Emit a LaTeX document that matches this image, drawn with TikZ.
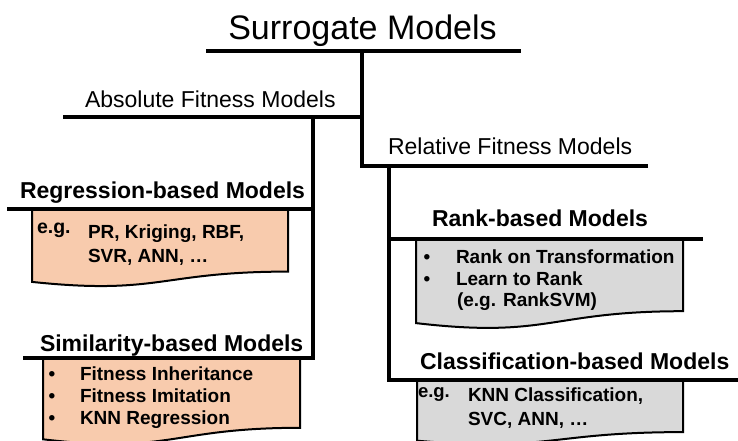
\documentclass[tikz,border=0pt]{standalone}
\usepackage{fontspec}
\setmainfont{Liberation Sans}
\definecolor{peach}{HTML}{F8CBAD}
\definecolor{lgray}{HTML}{D9D9D9}
\begin{document}
\begin{tikzpicture}[x=1pt,y=-1pt,
  bar/.style={line width=4pt, line join=miter},
  docbox/.style={line width=2pt, line join=miter},
  txt/.style={inner sep=0pt, outer sep=0pt, anchor=base west},
  titletxt/.style={txt, font=\fontsize{34}{40}\selectfont},
  subtxt/.style={txt, font=\fontsize{23}{27}\selectfont},
  headtxt/.style={txt, font=\fontsize{23}{27}\selectfont\bfseries},
  bodytxt/.style={txt, font=\fontsize{19}{22}\selectfont\bfseries},
  egtxt/.style={txt, font=\fontsize{19.5}{22}\selectfont\bfseries},
  bul/.style={inner sep=0pt, outer sep=0pt, anchor=base, font=\fontsize{19}{22}\selectfont\bfseries}]
\useasboundingbox (0,0) rectangle (738,441);

% document boxes
\draw[docbox, fill=peach] (32,209) -- (288,209) -- (288,271.6)
  .. controls (160,271.6) and (160,295.4) .. (32,281.9) -- cycle;
\draw[docbox, fill=peach] (43,358) -- (300,358) -- (300,427.8)
  .. controls (171.5,427.8) and (171.5,454.4) .. (43,439.3) -- cycle;
\draw[docbox, fill=lgray] (416,239) -- (683,239) -- (683,311.2)
  .. controls (549.5,311.2) and (549.5,338.7) .. (416,323.1) -- cycle;
\draw[docbox, fill=lgray] (417,380) -- (683,380) -- (683,432.1)
  .. controls (550,432.1) and (550,452) .. (417,440.7) -- cycle;

% tree coordinates
\coordinate (surL) at (206,51);
\coordinate (surR) at (521,51);
\coordinate (surM) at (362,51);
\coordinate (absL) at (63,117);
\coordinate (absR) at (362,117);
\coordinate (absV) at (313,117);
\coordinate (relL) at (362,166);
\coordinate (relR) at (648,166);
\coordinate (relV) at (389,166);
\coordinate (regL) at (7,209);
\coordinate (regR) at (313,209);
\coordinate (simL) at (23,358);
\coordinate (simR) at (313,358);
\coordinate (rnkL) at (389,239);
\coordinate (rnkR) at (703,239);
\coordinate (clsL) at (389,380);
\coordinate (clsR) at (738,380);

% bars
\draw[bar] (surL) -- (surR);
\draw[bar] (relR) -- (relL) -- (surM);
\draw[bar] (absL) -- (absR);
\draw[bar] (simL) -- (simR) -- (absV);
\draw[bar] (regL) -- (regR);
\draw[bar] (clsR) -- (clsL) -- (relV);
\draw[bar] (rnkL) -- (rnkR);

% titles
\node[titletxt, anchor=base] (surr) at (362.5,40) {Surrogate Models};
\node[subtxt] (abs) at (85,108) {Absolute Fitness Models};
\node[subtxt] (rel) at (388,154) {Relative Fitness Models};
\node[headtxt] (reg) at (20,198) {Regression-based Models};
\node[headtxt] (sim) at (40,351) {Similarity-based Models};
\node[headtxt] (rnk) at (432,226) {Rank-based Models};
\node[headtxt] (cls) at (420,369) {Classification-based Models};

% regression box
\node[egtxt] (regeg) at (37,233) {e.g.};
\node[bodytxt] (reg1) at (88,238) {PR, Kriging, RBF,};
\node[bodytxt] (reg2) at (88,262) {SVR, ANN, …};

% similarity box
\node[bul] (simb1) at (52,380) {•};
\node[bul] (simb2) at (52,402) {•};
\node[bul] (simb3) at (52,424) {•};
\node[bodytxt] (sim1) at (80,380) {Fitness Inheritance};
\node[bodytxt] (sim2) at (80,402) {Fitness Imitation};
\node[bodytxt] (sim3) at (80,424) {KNN Regression};

% rank box
\node[bul] (rnkb1) at (427,263) {•};
\node[bul] (rnkb2) at (427,285) {•};
\node[bodytxt] (rnk1) at (456,263) {Rank on Transformation};
\node[bodytxt] (rnk2) at (456,285) {Learn to Rank};
\node[bodytxt] (rnk3) at (457,306) {(e.g. RankSVM)};

% classification box
\node[egtxt, font=\fontsize{18.5}{22}\selectfont\bfseries] (clseg) at (418,397) {e.g.};
\node[bodytxt] (cls1) at (468,401) {KNN Classification,};
\node[bodytxt] (cls2) at (468,425) {SVC, ANN, …};
\end{tikzpicture}
\end{document}
